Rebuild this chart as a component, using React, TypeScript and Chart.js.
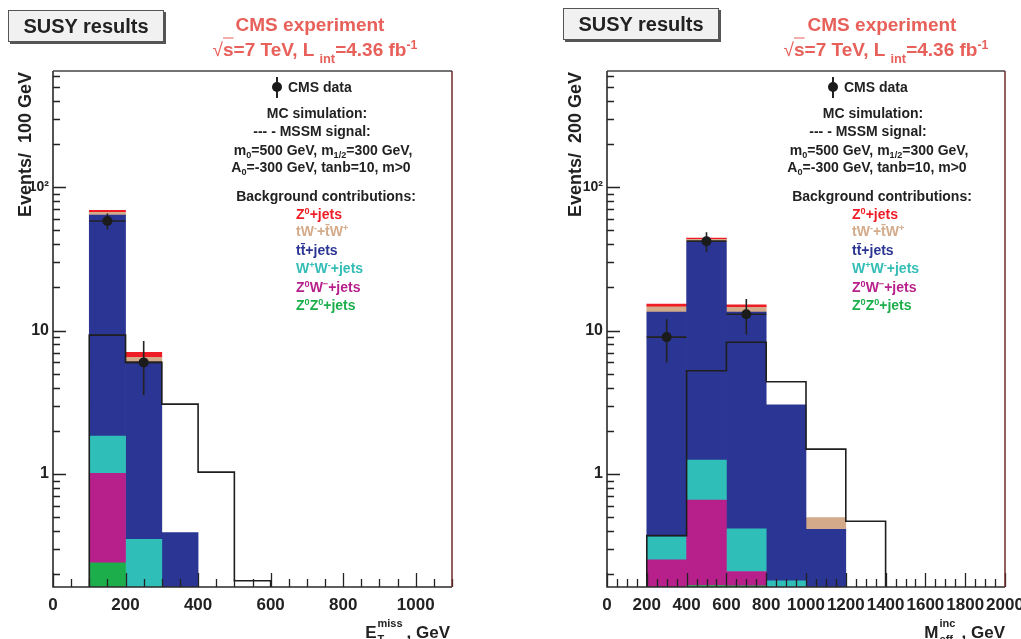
import React, { useEffect, useRef } from "react";
import { Chart, registerables } from "chart.js";

Chart.register(...registerables);

const W = 1021;
const H = 639;
const FONT = "'Liberation Sans', Arial, Helvetica, sans-serif";

// ---------- shared axis data ----------
const Y_MIN = 0.163;
const Y_MAX = 645;
const yTickValues = [1, 10, 100];
const yTickLabels = ["1", "10", "10²"];

// ---------- left panel: E_T^miss ----------
const metEdges = [100, 200, 300, 400, 500, 600];
const metZZ = [0.24, 0, 0, 0, 0];
const metZW = [0.77, 0, 0, 0, 0];
const metWW = [0.83, 0.35, 0, 0, 0];
const metTT = [61.96, 5.65, 0.39, 0, 0];
const metTW = [2.8, 0.5, 0, 0, 0];
const metZJ = [2.4, 0.55, 0, 0, 0];
const metSignal = [9.3, 6.0, 3.07, 1.03, 0.18];
const metDataX = [150, 250];
const metData = [58, 6];
const metDataErr = [7.6, 2.45];
const metTicks = [0, 200, 400, 600, 800, 1000];

// ---------- right panel: M_eff^inc ----------
const meffEdges = [200, 400, 600, 800, 1000, 1200, 1400];
const meffZZ = [0, 0.167, 0.166, 0, 0, 0];
const meffZW = [0.252, 0.492, 0.043, 0, 0, 0];
const meffWW = [0.114, 0.59, 0.205, 0.18, 0, 0];
const meffTT = [13.08, 40.35, 13.04, 2.85, 0.412, 0];
const meffTW = [1.2, 1.6, 1.05, 0, 0.084, 0];
const meffZJ = [0.65, 0.9, 0.6, 0, 0, 0];
const meffSignal = [0.372, 5.25, 8.28, 4.4, 1.49, 0.468];
const meffDataX = [300, 500, 700];
const meffData = [9, 42, 13];
const meffDataErr = [3.0, 6.5, 3.6];
const meffTicks = [0, 200, 400, 600, 800, 1000, 1200, 1400, 1600, 1800, 2000];

const COLORS = {
  zj: "#ee1d25",
  tw: "#d3ab8a",
  tt: "#2b3593",
  ww: "#2fbfb8",
  zw: "#b71f8b",
  zz: "#1dae4c",
};
const HEAD_RED = "#e7605a";
const INK = "#222222";

const PLOT_TOP = 71;
const PLOT_BOTTOM = 587;
const Y_AXIS_W = 53;
const X_AXIS_H = 40;

type PanelSpec = {
  edges: number[];
  zz: number[];
  zw: number[];
  ww: number[];
  tt: number[];
  tw: number[];
  zj: number[];
  signal: number[];
  dataX: number[];
  data: number[];
  dataErr: number[];
  xMax: number;
  xTicks: number[];
  plotLeft: number;
  plotRight: number;
};

const rootAxesPlugin = {
  id: "rootAxes",
  afterDatasetsDraw(chart: any, _args: any, opts: any) {
    const { ctx, chartArea: a } = chart;
    const x = chart.scales.x;
    const y = chart.scales.y;
    ctx.save();
    ctx.strokeStyle = INK;
    ctx.lineWidth = 1.3;
    ctx.beginPath();
    for (let v = x.min; v <= x.max + 1e-6; v += opts.xMinorStep) {
      const px = Math.round(x.getPixelForValue(v)) + 0.5;
      const r = v / opts.xMajorStep;
      const major = Math.abs(r - Math.round(r)) < 1e-6;
      const len = major ? 14 : 8;
      ctx.moveTo(px, a.bottom);
      ctx.lineTo(px, a.bottom - len);
    }
    for (let d = -1; d <= 2; d++) {
      for (let k = 1; k <= 9; k++) {
        const v = k * Math.pow(10, d);
        if (v < y.min || v > y.max) continue;
        const py = Math.round(y.getPixelForValue(v)) + 0.5;
        const len = k === 1 ? 13 : 7;
        ctx.moveTo(a.left, py);
        ctx.lineTo(a.left + len, py);
      }
    }
    ctx.stroke();
    ctx.lineWidth = 1.6;
    ctx.strokeStyle = "#2a2a2a";
    ctx.beginPath();
    ctx.moveTo(a.left, a.top);
    ctx.lineTo(a.left, a.bottom);
    ctx.lineTo(a.right, a.bottom);
    ctx.stroke();
    ctx.lineWidth = 1.3;
    ctx.strokeStyle = "#444444";
    ctx.beginPath();
    ctx.moveTo(a.left, a.top);
    ctx.lineTo(a.right, a.top);
    ctx.stroke();
    ctx.strokeStyle = "#6e2a2a";
    ctx.lineWidth = 1.5;
    ctx.beginPath();
    ctx.moveTo(a.right, a.top);
    ctx.lineTo(a.right, a.bottom);
    ctx.stroke();
    ctx.restore();
  },
};

const errorBarsPlugin = {
  id: "errorBars",
  beforeDatasetDraw(chart: any, args: any, opts: any) {
    const ds = chart.data.datasets[args.index];
    if (!ds || ds.label !== "CMS data") return;
    const { ctx } = chart;
    const x = chart.scales.x;
    const y = chart.scales.y;
    ctx.save();
    ctx.strokeStyle = INK;
    ctx.lineWidth = 1.6;
    ctx.beginPath();
    opts.xs.forEach((cx: number, i: number) => {
      const v = opts.ys[i];
      const e = opts.errs[i];
      const px = x.getPixelForValue(cx);
      const py = y.getPixelForValue(v);
      ctx.moveTo(px, y.getPixelForValue(v + e));
      ctx.lineTo(px, y.getPixelForValue(Math.max(v - e, Y_MIN)));
      ctx.moveTo(x.getPixelForValue(cx - opts.half), py);
      ctx.lineTo(x.getPixelForValue(cx + opts.half), py);
    });
    ctx.stroke();
    ctx.restore();
  },
};

function buildConfig(p: PanelSpec): any {
  const nb = p.edges.length - 1;
  const cum = new Array(nb).fill(0);
  const procs: [number[], string, string][] = [
    [p.zz, COLORS.zz, "Z0Z0+jets"],
    [p.zw, COLORS.zw, "Z0W-+jets"],
    [p.ww, COLORS.ww, "W+W-+jets"],
    [p.tt, COLORS.tt, "tt+jets"],
    [p.tw, COLORS.tw, "tW"],
    [p.zj, COLORS.zj, "Z0+jets"],
  ];
  const barSets = procs.map(([vals, color, label]) => {
    const pts: any[] = [];
    vals.forEach((v, i) => {
      const lo = cum[i];
      const hi = lo + v;
      cum[i] = hi;
      if (v > 0 && hi > Y_MIN) {
        pts.push({ x: (p.edges[i] + p.edges[i + 1]) / 2, y: [Math.max(lo, Y_MIN), hi] });
      }
    });
    return {
      type: "bar",
      label,
      data: pts,
      backgroundColor: color,
      borderWidth: 0,
      barPercentage: 1,
      categoryPercentage: 1,
      order: 2,
      clip: 0,
    };
  });

  const sigPts: any[] = [{ x: p.edges[0], y: Y_MIN }];
  p.signal.forEach((v, i) => sigPts.push({ x: p.edges[i], y: v }));
  sigPts.push({ x: p.edges[nb], y: p.signal[nb - 1] });
  sigPts.push({ x: p.edges[nb], y: Y_MIN });

  const dataPts = p.dataX.map((x, i) => ({ x, y: p.data[i] }));
  const binW = p.edges[1] - p.edges[0];

  return {
    type: "bar",
    data: {
      datasets: [
        ...barSets,
        {
          type: "line",
          label: "MSSM signal",
          data: sigPts,
          stepped: "before",
          borderColor: "#1e1e1e",
          borderWidth: 1.6,
          pointRadius: 0,
          fill: false,
          order: 1,
        },
        {
          type: "line",
          label: "CMS data",
          data: dataPts,
          showLine: false,
          pointRadius: 5,
          pointHoverRadius: 5,
          pointBackgroundColor: "#1b1b1b",
          pointBorderColor: "#1b1b1b",
          pointBorderWidth: 0,
          order: 0,
        },
      ],
    },
    options: {
      animation: false,
      responsive: false,
      events: [],
      layout: {
        padding: {
          left: p.plotLeft - Y_AXIS_W,
          right: W - p.plotRight,
          top: PLOT_TOP,
          bottom: H - PLOT_BOTTOM - X_AXIS_H,
        },
      },
      plugins: {
        legend: { display: false },
        tooltip: { enabled: false },
        title: { display: false },
        rootAxes: { xMinorStep: 50, xMajorStep: 200 },
        errorBars: { xs: p.dataX, ys: p.data, errs: p.dataErr, half: binW / 2 },
      },
      scales: {
        x: {
          type: "linear",
          min: 0,
          max: p.xMax,
          offset: false,
          stacked: true,
          grid: { display: false, drawTicks: false, offset: false },
          border: { display: false },
          ticks: {
            autoSkip: false,
            maxRotation: 0,
            minRotation: 0,
            padding: 8,
            color: INK,
            font: { family: FONT, size: 17, weight: "bold" },
            callback: (v: number) => String(v),
          },
          afterBuildTicks: (s: any) => {
            s.ticks = p.xTicks.map((v) => ({ value: v }));
          },
          afterFit: (s: any) => {
            s.height = X_AXIS_H;
            s.paddingLeft = 0;
            s.paddingRight = 0;
          },
        },
        y: {
          type: "logarithmic",
          min: Y_MIN,
          max: Y_MAX,
          stacked: false,
          grid: { display: false, drawTicks: false },
          border: { display: false },
          ticks: {
            autoSkip: false,
            padding: 4,
            color: INK,
            font: (c: any) => ({
              family: FONT,
              size: c.tick && c.tick.value === 100 ? 14 : 16,
              weight: "bold",
            }),
            callback: (v: number) => {
              const i = yTickValues.indexOf(v);
              return i >= 0 ? yTickLabels[i] : "";
            },
          },
          afterBuildTicks: (s: any) => {
            s.ticks = yTickValues.map((v) => ({ value: v }));
          },
          afterFit: (s: any) => {
            s.width = Y_AXIS_W;
            s.paddingTop = 0;
            s.paddingBottom = 0;
          },
        },
      },
    },
    plugins: [rootAxesPlugin, errorBarsPlugin],
  };
}

const leftSpec: PanelSpec = {
  edges: metEdges,
  zz: metZZ,
  zw: metZW,
  ww: metWW,
  tt: metTT,
  tw: metTW,
  zj: metZJ,
  signal: metSignal,
  dataX: metDataX,
  data: metData,
  dataErr: metDataErr,
  xMax: 1100,
  xTicks: metTicks,
  plotLeft: 53,
  plotRight: 452,
};

const rightSpec: PanelSpec = {
  edges: meffEdges,
  zz: meffZZ,
  zw: meffZW,
  ww: meffWW,
  tt: meffTT,
  tw: meffTW,
  zj: meffZJ,
  signal: meffSignal,
  dataX: meffDataX,
  data: meffData,
  dataErr: meffDataErr,
  xMax: 2000,
  xTicks: meffTicks,
  plotLeft: 607,
  plotRight: 1005,
};

function ChartCanvas({ spec }: { spec: PanelSpec }) {
  const ref = useRef<HTMLCanvasElement | null>(null);
  useEffect(() => {
    if (!ref.current) return;
    const chart = new Chart(ref.current, buildConfig(spec));
    return () => chart.destroy();
  }, [spec]);
  return (
    <canvas
      ref={ref}
      width={W}
      height={H}
      style={{ position: "absolute", left: 0, top: 0, width: W, height: H }}
    />
  );
}

const Sub = ({ children, size = "0.65em", top = "0.35em" }: any) => (
  <span style={{ fontSize: size, position: "relative", top }}>{children}</span>
);
const Sup = ({ children, size = "0.65em", top = "-0.55em" }: any) => (
  <span style={{ fontSize: size, position: "relative", top }}>{children}</span>
);

const Centered = ({ x, y, size = 14, color = INK, children }: any) => (
  <div
    style={{
      position: "absolute",
      left: x,
      top: y,
      transform: "translate(-50%, -50%)",
      whiteSpace: "nowrap",
      lineHeight: 1,
      fontSize: size,
      fontWeight: "bold",
      color,
    }}
  >
    {children}
  </div>
);

const LeftText = ({ x, y, size = 14, color = INK, children }: any) => (
  <div
    style={{
      position: "absolute",
      left: x,
      top: y,
      transform: "translateY(-50%)",
      whiteSpace: "nowrap",
      lineHeight: 1,
      fontSize: size,
      fontWeight: "bold",
      color,
    }}
  >
    {children}
  </div>
);

function Header({ boxX, boxY, cmsX, sqrtX }: any) {
  return (
    <>
      <div
        style={{
          position: "absolute",
          left: boxX,
          top: boxY,
          width: 154,
          height: 30,
          background: "#f1f1f1",
          border: "1px solid #555",
          boxShadow: "2px 2px 0 #555",
          display: "flex",
          alignItems: "center",
          justifyContent: "center",
          fontSize: 20,
          fontWeight: "bold",
          color: INK,
          lineHeight: 1,
        }}
      >
        SUSY results
      </div>
      <Centered x={cmsX} y={24} size={19} color={HEAD_RED}>
        CMS experiment
      </Centered>
      <Centered x={sqrtX} y={49} size={19} color={HEAD_RED}>
        <span style={{ fontWeight: "normal" }}>√</span>
        <span style={{ textDecoration: "overline" }}>s</span>=7 TeV, L
        <span style={{ marginLeft: 5 }} />
        <Sub size="0.68em" top="0.55em">int</Sub>=4.36 fb<Sup size="0.65em" top="-0.55em">-1</Sup>
      </Centered>
    </>
  );
}

function Legend({ dx }: { dx: number }) {
  const entries: [any, string, number][] = [
    [<>Z<Sup>0</Sup>+jets</>, COLORS.zj, 214],
    [<>tW<Sup>-</Sup>+t{"\u0304"}W<Sup>+</Sup></>, COLORS.tw, 231],
    [<>tt{"\u0304"}+jets</>, COLORS.tt, 250],
    [<>W<Sup>+</Sup>W<Sup>-</Sup>+jets</>, "#33bdb6", 268],
    [<>Z<Sup>0</Sup>W<Sup>−</Sup>+jets</>, COLORS.zw, 287],
    [<>Z<Sup>0</Sup>Z<Sup>0</Sup>+jets</>, COLORS.zz, 305],
  ];
  return (
    <>
      <div
        style={{
          position: "absolute",
          left: 276 + dx,
          top: 77,
          width: 1.6,
          height: 21,
          background: INK,
        }}
      />
      <div
        style={{
          position: "absolute",
          left: 272 + dx,
          top: 82,
          width: 10,
          height: 10,
          borderRadius: 5,
          background: "#1b1b1b",
        }}
      />
      <LeftText x={288 + dx} y={87}>CMS data</LeftText>
      <Centered x={317 + dx} y={113}>MC simulation:</Centered>
      <Centered x={312 + dx} y={131}>--- - MSSM signal:</Centered>
      <Centered x={323 + dx} y={150}>
        m<Sub>0</Sub>=500 GeV, m<Sub>1/2</Sub>=300 GeV,
      </Centered>
      <Centered x={321 + dx} y={167}>
        A<Sub>0</Sub>=-300 GeV, tanb=10, m&gt;0
      </Centered>
      <Centered x={326 + dx} y={196}>Background contributions:</Centered>
      {entries.map(([txt, color, y], i) => (
        <LeftText key={i} x={296 + dx} y={y} color={color}>
          {txt}
        </LeftText>
      ))}
    </>
  );
}

function YTitle({ cx, text }: { cx: number; text: string }) {
  const w = 220;
  const lh = 18;
  return (
    <div
      style={{
        position: "absolute",
        left: cx - lh / 2,
        top: PLOT_TOP + 1 + w,
        width: w,
        height: lh,
        lineHeight: `${lh}px`,
        fontSize: 18,
        fontWeight: "bold",
        color: INK,
        textAlign: "right",
        whiteSpace: "pre",
        transformOrigin: "0 0",
        transform: "rotate(-90deg)",
      }}
    >
      {text}
    </div>
  );
}

function XTitle({ right, main, sup, sub }: any) {
  return (
    <div
      style={{
        position: "absolute",
        right: W - right,
        top: 632,
        transform: "translateY(-50%)",
        whiteSpace: "nowrap",
        lineHeight: 1,
        fontSize: 17,
        fontWeight: "bold",
        color: INK,
      }}
    >
      {main}
      <span style={{ display: "inline-block", position: "relative", width: sup.length * 7 + 2, height: 1 }}>
        <span style={{ position: "absolute", left: 1, top: -19, fontSize: 11, lineHeight: 1 }}>{sup}</span>
        <span style={{ position: "absolute", left: 1, top: -3, fontSize: 11, lineHeight: 1 }}>{sub}</span>
      </span>
      , GeV
    </div>
  );
}

export default function App() {
  return (
    <div
      style={{
        position: "absolute",
        left: 0,
        top: 0,
        width: W,
        height: H,
        background: "#ffffff",
        overflow: "hidden",
        fontFamily: FONT,
      }}
    >
      <ChartCanvas spec={leftSpec} />
      <ChartCanvas spec={rightSpec} />
      <Header boxX={8} boxY={10} cmsX={310} sqrtX={315} />
      <Header boxX={563} boxY={8} cmsX={882} sqrtX={886} />
      <Legend dx={0} />
      <Legend dx={556} />
      <YTitle cx={25} text={"Events/  100 GeV"} />
      <YTitle cx={575} text={"Events/  200 GeV"} />
      <XTitle right={450} main="E" sup="miss" sub="T" />
      <XTitle right={1005} main="M" sup="inc" sub="eff" />
    </div>
  );
}
